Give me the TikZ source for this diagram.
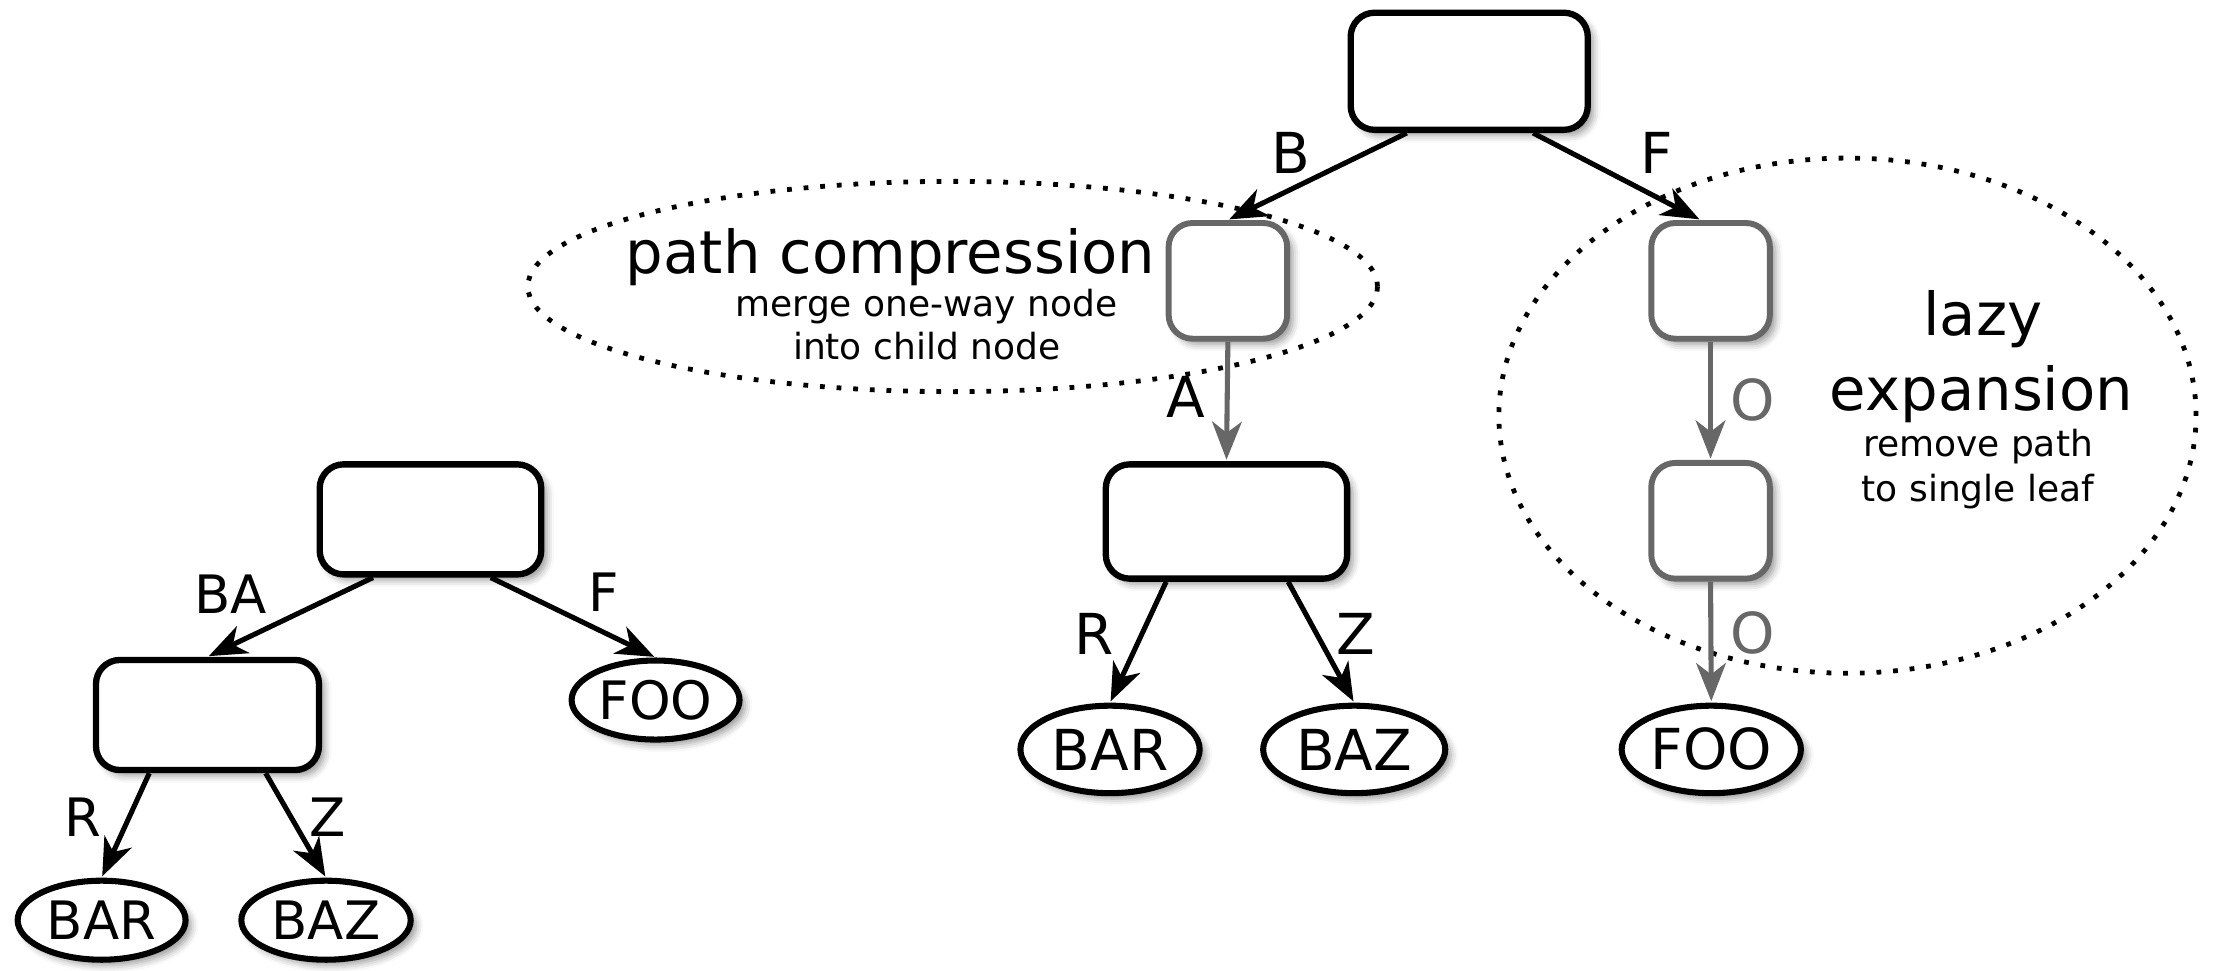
\documentclass[tikz,border=0pt]{standalone}
\usepackage{fontspec}
\setmainfont{DejaVu Sans}
\usetikzlibrary{arrows.meta,shapes.geometric,shadows.blur}

\definecolor{edgegrey}{HTML}{676767}

\begin{document}
\begin{tikzpicture}[x=1pt, y=-1pt,
  softshadow/.style={blur shadow={shadow xshift=4pt, shadow yshift=-4pt, shadow blur radius=5pt, shadow opacity=40}},
  triebox/.style={draw=black, line width=4.5pt, fill=white, rounded corners=17pt, inner sep=0pt, softshadow},
  greybox/.style={triebox, draw=edgegrey, line width=4.2pt},
  leaf/.style={ellipse, draw=black, line width=4.3pt, fill=white, inner sep=0pt, softshadow,
               minimum width=127pt, minimum height=62pt, font=\fontsize{40}{48}\selectfont},
  lleaf/.style={leaf, minimum width=119pt, minimum height=56pt, font=\fontsize{37.5}{45}\selectfont},
  link/.style={line width=3.6pt, -{Stealth[length=27pt, width=21pt, inset=8pt]}, shorten >=1pt},
  greylink/.style={link, draw=edgegrey},
  elab/.style={anchor=base, inner sep=0pt, font=\fontsize{40}{48}\selectfont},
  lelab/.style={elab, font=\fontsize{37.5}{45}\selectfont},
  headline/.style={anchor=base, inner sep=0pt, font=\fontsize{42}{50}\selectfont},
  note/.style={anchor=base, inner sep=0pt, font=\fontsize{25.5}{31}\selectfont},
  dotring/.style={line width=3.4pt, dash pattern=on 3.4pt off 8.4pt}
]
\useasboundingbox (0,0) rectangle (1568,687.3);

% dotted rings around the two transformations
\draw[dotring] (675,203) ellipse [x radius=301pt, y radius=74.5pt];
\draw[dotring] (1309,294.5) ellipse [x radius=247pt, y radius=182.5pt];

% ---- compressed trie (left) ----
\node[triebox, minimum width=157pt, minimum height=78pt] (lroot) at (305,368) {};
\node[triebox, minimum width=158pt, minimum height=78pt] (lchild) at (147,506.6) {};
\node[lleaf] (lfoo) at (464.5,496) {FOO};
\node[lleaf] (lbar) at (72,652) {BAR};
\node[lleaf, minimum width=120pt] (lbaz) at (231,652) {BAZ};

\draw[link] ([xshift=40pt]lroot.south west) -- (lchild.north);
\draw[link] ([xshift=-38pt]lroot.south east) -- (lfoo.north);
\draw[link] ([xshift=40pt]lchild.south west) -- (lbar.north);
\draw[link] ([xshift=-40pt]lchild.south east) -- (lbaz.north);

\node[lelab] (lBA) at (163.6,434.5) {BA};
\node[lelab] (lF) at (428,433.6) {F};
\node[lelab] (lR) at (59,593) {R};
\node[lelab] (lZ) at (232,593) {Z};

% ---- plain trie (right) ----
\node[triebox, minimum width=168pt, minimum height=83pt] (root) at (1041,50.5) {};
\node[greybox, minimum width=84pt, minimum height=82pt] (pc) at (870,199) {};
\node[greybox, minimum width=84pt, minimum height=82pt] (le1) at (1212,199) {};
\node[greybox, minimum width=84pt, minimum height=82pt] (le2) at (1212,369) {};
\node[triebox, minimum width=171pt, minimum height=81pt] (mid) at (869,369.5) {};
\node[leaf] (bar) at (786.5,531) {BAR};
\node[leaf, minimum width=129pt] (baz) at (959.5,531) {BAZ};
\node[leaf] (foo) at (1212.5,531) {FOO};

\draw[link] ([xshift=42pt]root.south west) -- (pc.north);
\draw[link] ([xshift=-41pt]root.south east) -- ([xshift=-7pt]le1.north);
\draw[greylink] (pc.south) -- (mid.north);
\draw[greylink] (le1.south) -- (le2.north);
\draw[greylink] (le2.south) -- (foo.north);
\draw[link] ([xshift=45pt]mid.south west) -- (bar.north);
\draw[link] ([xshift=-44pt]mid.south east) -- (baz.north);

\node[elab] (eB) at (914.5,122.6) {B};
\node[elab] (eF) at (1174,122.7) {F};
\node[elab] (eA) at (840.5,296) {A};
\node[elab, text=edgegrey] (eO1) at (1241.5,297.6) {O};
\node[elab, text=edgegrey] (eO2) at (1241.5,462.7) {O};
\node[elab] (eR) at (775,464) {R};
\node[elab] (eZ) at (961,464) {Z};

% ---- annotations ----
\node[headline] (pctitle) at (631,193.6) {path compression};
\node[note] (pcnote1) at (656.5,224.4) {merge one-way node};
\node[note] (pcnote2) at (656.5,255) {into child node};

\node[headline] (lztitle1) at (1404.8,237.4) {lazy};
\node[headline] (lztitle2) at (1404,290.5) {expansion};
\node[note] (lznote1) at (1401.5,323.6) {remove path};
\node[note] (lznote2) at (1401.5,355.5) {to single leaf};
\end{tikzpicture}
\end{document}
